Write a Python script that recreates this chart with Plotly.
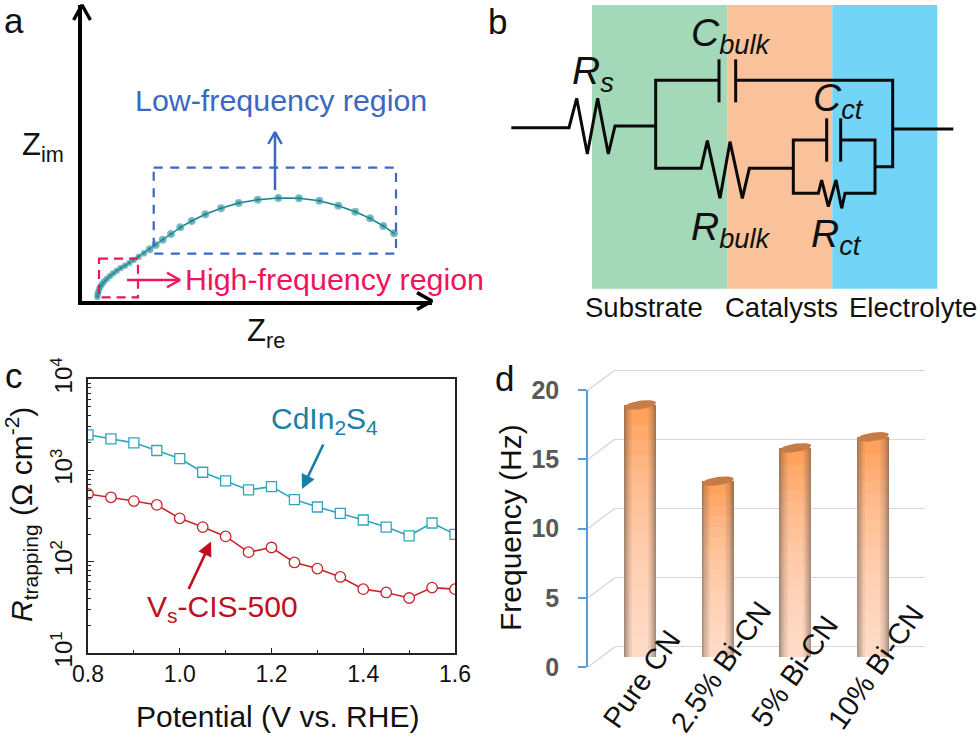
import numpy as np
import plotly.graph_objects as go

W, H = 980, 742
# ---------- data ----------
nyq_re = [312, 301.3, 288, 273.3, 256.3, 237.3, 217, 196.3, 175.7, 156.7, 139, 123.3, 109.7, 98.3, 89, 80.7, 73.7, 67.7,
          62, 56.7, 51.7, 47.3, 43, 38.7, 34.7, 31.3, 28, 25, 22.3, 20.3, 18.7, 17.3, 16.3, 15.7, 15.3]
nyq_im = [67.7, 75, 82.7, 89.3, 95.3, 100.3, 102.7, 103, 101.3, 98, 92.7, 86.7, 80, 73.7, 67, 61.3, 56, 51.7,
          47.7, 44.3, 41, 38, 35.3, 33, 30.3, 27.7, 25, 22.3, 19.7, 17.3, 15, 12.3, 9.3, 6.7, 4]
potential = [0.8, 0.85, 0.9, 0.95, 1.0, 1.05, 1.1, 1.15, 1.2, 1.25, 1.3, 1.35, 1.4, 1.45, 1.5, 1.55, 1.6]
r_cdins = [2449, 2213, 2000, 1648, 1346, 953, 766, 610, 663, 478, 397, 338, 286, 239, 192, 265, 199]
r_vs = [551, 507, 461, 418, 298, 239, 189, 127, 143, 98, 84, 68, 50, 46, 40, 52, 50]
r_ticks = [10, 100, 1000, 10000]
r_ticktext = ["10<sup>1</sup>", "10<sup>2</sup>", "10<sup>3</sup>", "10<sup>4</sup>"]
samples = ["Pure CN", "2.5% Bi-CN", "5% Bi-CN", "10% Bi-CN"]
freq = [18.2, 12.7, 15.1, 15.9]
freq_ticks = [0, 5, 10, 15, 20]

# circuit wires, in 3x-zoom units of panel b
wires = [
    [(64, 383), (237, 383), (260, 295), (292, 462), (323, 295), (355, 462), (375, 378), (497, 378)],
    [(687, 241), (497, 241), (497, 505), (633, 505), (652, 422), (690, 595), (720, 425), (757, 595), (778, 505), (910, 505)],
    [(687, 178), (687, 307)], [(737, 178), (737, 307)],
    [(737, 241), (1208, 241), (1208, 500), (1155, 500)],
    [(1208, 387), (1390, 387)],
    [(1010, 420), (910, 420), (910, 580), (985, 580), (995, 540), (1015, 620), (1038, 540), (1055, 625), (1065, 580), (1155, 580), (1155, 420), (1052, 420)],
    [(1010, 355), (1010, 485)], [(1052, 355), (1052, 485)],
]

FONT = "Liberation Sans"
BLUE = "#3B68C0"
PINK = "#F0145A"
TEAL = "#12808C"
CD = "#1A7FA8"
RED = "#C00F1E"


def X(p): return p / W
def Y(p): return 1 - p / H


fig = go.Figure()
ann = []


def text(t, x, y, size, color="#111111", angle=0, anchor="center"):
    ann.append(dict(text=t, x=X(x), y=Y(y), xref="paper", yref="paper", showarrow=False, textangle=angle,
                    xanchor=anchor, yanchor="middle", font=dict(family=FONT, size=size, color=color)))


def canvas_line(xs, ys, color="#000000", width=3, dash=None):
    fig.add_trace(go.Scatter(x=xs, y=ys, mode="lines", xaxis="x6", yaxis="y6", hoverinfo="skip", showlegend=False,
                             line=dict(color=color, width=width, dash=dash, shape="linear")))


def chevron(xt, yt, dx, dy, size, color, width):
    # open arrow head whose tip is (xt, yt), pointing along (dx, dy)
    px_, py_ = -dy, dx
    canvas_line([xt - dx * size + px_ * size * .56, xt, xt - dx * size - px_ * size * .56],
                [yt - dy * size + py_ * size * .56, yt, yt - dy * size - py_ * size * .56], color, width)


# ---------- panel a ----------
sizes = [8] * 18 + [6.5] * (len(nyq_re) - 18)
fig.add_trace(go.Scatter(x=nyq_re, y=nyq_im, xaxis="x", yaxis="y", mode="lines+markers", showlegend=False,
                         line=dict(color=TEAL, width=1.5),
                         marker=dict(size=sizes, color="#4FAAB2", gradient=dict(type="radial", color="#08707E"),
                                     line=dict(width=0))))
canvas_line([275, 275], [190, 132], BLUE, 2.5)
chevron(275, 132, 0, -1, 12, BLUE, 2.5)
canvas_line([127, 180], [280, 280], PINK, 2.5)
chevron(180, 280, 1, 0, 13, PINK, 2.5)
chevron(82, 5, 0, -1, 15, "#000000", 3.5)
chevron(432, 301, 1, 0, 15, "#000000", 3.5)
text("Low-frequency region", 281, 100, 30.4, BLUE)
text("High-frequency region", 334.5, 279, 30.4, PINK)
text("Z<sub>im</sub>", 43, 147, 31)
text("Z<sub>re</sub>", 266, 333, 31)

shapes = [
    dict(type="rect", xref="x6", yref="y6", x0=153.7, x1=396, y0=167.7, y1=253.7, layer="above",
         line=dict(color=BLUE, width=2.2, dash="9px,7.5px")),
    dict(type="rect", xref="x6", yref="y6", x0=99, x1=138, y0=258.7, y1=297.3, layer="above",
         line=dict(color=PINK, width=2.2, dash="9px,6px")),
]

# ---------- panel b ----------
for x0, x1, c in [(592, 727.7, "#A3D9B9"), (727.7, 832.3, "#F9C29B"), (832.3, 937.3, "#72D4F7")]:
    shapes.append(dict(type="rect", xref="paper", yref="paper", x0=X(x0), x1=X(x1), y0=Y(288.7), y1=Y(5),
                       layer="below", line=dict(width=0), fillcolor=c))
for w in wires:
    canvas_line([490 + p[0] / 3 for p in w], [p[1] / 3 for p in w], "#0A0A0A", 3)
for t, x, y in [("<i>R<sub>s</sub></i>", 593, 73), ("<i>C<sub>bulk</sub></i>", 731, 36), ("<i>C<sub>ct</sub></i>", 838, 100),
                ("<i>R<sub>bulk</sub></i>", 731, 230), ("<i>R<sub>ct</sub></i>", 836, 236)]:
    text(t, x, y, 39)
for t, x in [("Substrate", 644), ("Catalysts", 781), ("Electrolyte", 913)]:
    text(t, x, 307, 27.5)

# ---------- panel c ----------
fig.add_trace(go.Scatter(x=potential, y=r_cdins, xaxis="x2", yaxis="y2", mode="lines+markers", showlegend=False,
                         name="CdIn2S4", line=dict(color="#2FA6BE", width=1.6),
                         marker=dict(symbol="square", size=10, color="white", line=dict(color="#2FA6BE", width=1.3))))
fig.add_trace(go.Scatter(x=potential, y=r_vs, xaxis="x2", yaxis="y2", mode="lines+markers", showlegend=False,
                         name="Vs-CIS-500", line=dict(color="#C8252B", width=1.6),
                         marker=dict(symbol="circle", size=10.5, color="white", line=dict(color="#C8252B", width=1.3))))
text("CdIn<sub>2</sub>S<sub>4</sub>", 324, 420, 30, CD)
text("V<sub>s</sub>-CIS-500", 222, 608, 30, RED)
text("Potential (V vs. RHE)", 277, 716, 30)
text("<i>R</i><sub>trapping</sub> (Ω cm<sup>-2</sup>)", 21, 515, 30, angle=-90)
for (x0, y0, x1, y1, c) in [(324, 443, 302, 489, CD), (188, 590.5, 211, 541.5, RED)]:
    ann.append(dict(text="", x=x1, y=y1, ax=x0, ay=y0, xref="x6", yref="y6", axref="x6", ayref="y6", showarrow=True,
                    arrowhead=2, arrowsize=1.1, arrowwidth=2.6, arrowcolor=c))

# ---------- panel d ----------
# invisible carriers so the back-wall and front axes are drawn
fig.add_trace(go.Scatter(x=[0, 1], y=freq_ticks[:2], xaxis="x3", yaxis="y3", mode="none", hoverinfo="skip", showlegend=False))
fig.add_trace(go.Scatter(x=[0, 1], y=freq_ticks[:2], xaxis="x4", yaxis="y4", mode="none", hoverinfo="skip", showlegend=False))
bar_x = list(range(len(samples)))
BAR_W = 32 / 77.6
kw = dict(x=bar_x, xaxis="x5", yaxis="y5", showlegend=False, hoverinfo="skip", marker_line_width=0)
fig.add_trace(go.Bar(y=freq, width=BAR_W, marker_color="#FF9A4E", name="Frequency", **kw))
for f in np.linspace(0.08, 0.98, 16):          # pale wash, stronger towards the foot
    fig.add_trace(go.Bar(y=[v * f for v in freq], width=BAR_W, marker_color="rgba(255,240,228,0.1)", **kw))
for k in [0.02, 0.035, 0.05, 0.07, 0.09, 0.12, 0.155, 0.2, 0.26]:   # side shading of the cylinder
    for off in (-BAR_W / 2, BAR_W / 2 - BAR_W * k):
        fig.add_trace(go.Bar(y=freq, width=BAR_W * k, offset=off, marker_color="rgba(90,78,74,0.085)", **kw))
# cylinder caps, tied to the bar heights
t = np.linspace(0, 2 * np.pi, 60)
a_u = BAR_W / 2
b_u = 4.2 / 13.85
tilt_u = 0.16
for i, v in enumerate(freq):
    ex = i + a_u * np.cos(t)
    fig.add_trace(go.Scatter(x=ex, y=v + b_u * np.sin(t) + tilt_u * np.cos(t), xaxis="x5", yaxis="y5", mode="lines",
                             fill="toself", fillcolor="#C67C46", line=dict(width=0), hoverinfo="skip", showlegend=False))
    fig.add_trace(go.Scatter(x=ex[30:], y=b_u * 0.7 * np.sin(t[30:]), xaxis="x5", yaxis="y5", mode="lines",
                             fill="toself", fillcolor="#FBDCC4", line=dict(width=0), hoverinfo="skip", showlegend=False))
# depth lines between front axis and back wall
for f_y, b_y in zip([667, 597.8, 528.5, 459.3, 390], [646.7, 577.7, 508.3, 439, 370]):
    canvas_line([588, 615], [f_y, b_y], "#D3D7E5", 1.4)
for s, x, y in zip(samples, [641.7, 720.7, 794, 875.7], [679, 666.7, 671.7, 667]):
    text(s, x, y, 29, angle=-55)
text("Frequency (Hz)", 510, 528, 30, angle=-90)

# panel letters
text("a", 14, 20.5, 35)
text("b", 497, 22, 35)
text("c", 14, 376, 35)
text("d", 505, 378, 35)


def dom(a, b): return [X(a), X(b)]
def vdom(bottom, top): return [Y(bottom), Y(top)]


hidden = dict(showline=False, showgrid=False, zeroline=False, showticklabels=False, ticks="", fixedrange=True, automargin=False)
UNIT = (646.7 - 370) / 20
layout = dict(
    template="none",
    width=W, height=H, margin=dict(l=0, r=0, t=0, b=0, pad=0), autosize=False, showlegend=False,
    paper_bgcolor="white", plot_bgcolor="rgba(0,0,0,0)", barmode="overlay", bargap=0,
    font=dict(family=FONT), annotations=ann, shapes=shapes,
    # a
    xaxis=dict(domain=dom(82, 432), range=[0, 350], showticklabels=False, ticks="", showgrid=False, zeroline=False,
               showline=True, linecolor="#000000", linewidth=3.5, anchor="y"),
    yaxis=dict(domain=vdom(301, 5), range=[0, 296], showticklabels=False, ticks="", showgrid=False, zeroline=False,
               showline=True, linecolor="#000000", linewidth=3.5, anchor="x"),
    # c
    xaxis2=dict(domain=dom(88, 455), range=[0.8, 1.6], dtick=0.2, tick0=0.8, tickformat=".1f", ticks="inside", ticklen=5,
                tickcolor="#222", showgrid=False, zeroline=False, showline=True, linecolor="#222", linewidth=1.5,
                mirror=True, anchor="y2", tickfont=dict(size=23, color="#111"),
                minor=dict(dtick=0.1, ticks="inside", ticklen=3, tickcolor="#222", showgrid=False)),
    yaxis2=dict(domain=vdom(653, 379), type="log", range=[1, 4], tickmode="array", tickvals=r_ticks, ticktext=r_ticktext,
                ticks="inside", ticklen=6, tickcolor="#222", showgrid=False, zeroline=False, showline=True,
                linecolor="#222", linewidth=1.5, mirror=True, anchor="x2", tickangle=-90, ticklabelstandoff=5,
                tickfont=dict(size=24, color="#111"),
                minor=dict(dtick="D1", ticks="inside", ticklen=3, tickcolor="#222", showgrid=False)),
    # d: back wall grid (range runs one unit past 0 and 20 so that both end lines are kept)
    xaxis3=dict(domain=dom(615, 925), range=[0, 1], **hidden, anchor="y3"),
    yaxis3=dict(domain=vdom(646.7 + UNIT, 370 - UNIT), range=[-1, 21], tickvals=freq_ticks, showgrid=True, gridcolor="#D3D7E5",
                gridwidth=1.4, showticklabels=False, ticks="", zeroline=False, showline=False, anchor="x3"),
    # d: front value axis
    xaxis4=dict(domain=dom(588, 925), range=[0, 1], **hidden, anchor="y4"),
    yaxis4=dict(domain=vdom(667, 390), range=[0, 20], tickvals=freq_ticks, ticks="outside", ticklen=8, tickcolor="#5B9BD5",
                tickwidth=1.5, showgrid=False, zeroline=False, showline=True, linecolor="#5B9BD5", linewidth=1.5,
                anchor="x4", ticklabelstandoff=14, tickfont=dict(size=25, color="#595959", family=FONT, weight="bold")),
    # d: bars, at mid depth
    xaxis5=dict(domain=dom(600, 912), range=[-40 / 77.6, 272 / 77.6], **hidden, anchor="y5"),
    yaxis5=dict(domain=vdom(657, 380), range=[0, 20], **hidden, anchor="x5"),
    # drawing canvas, page pixels
    xaxis6=dict(domain=[0, 1], range=[0, W], **hidden, anchor="y6"),
    yaxis6=dict(domain=[0, 1], range=[H, 0], **hidden, anchor="x6"),
)
fig.update_layout(**layout)
fig.write_html("out.html", post_script="document.body.style.margin='0';", config=dict(displayModeBar=False))
